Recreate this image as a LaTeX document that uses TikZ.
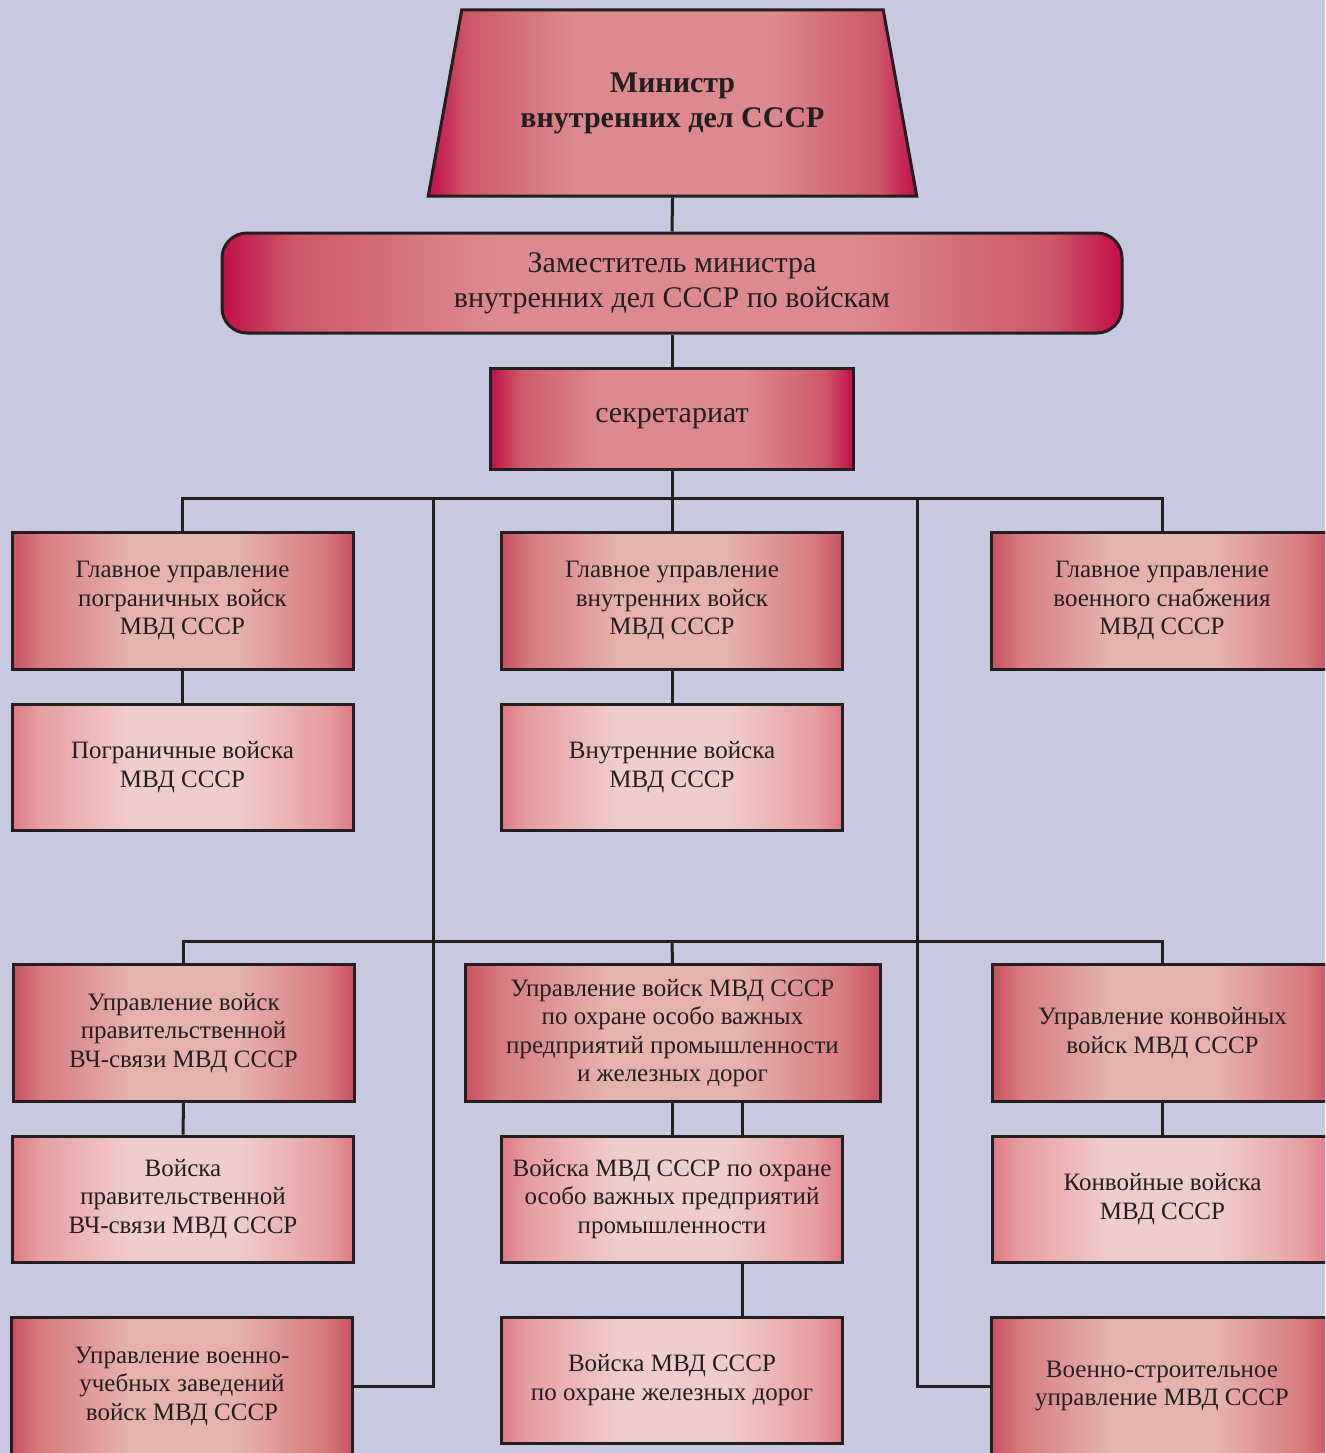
\documentclass[tikz,border=0pt]{standalone}
\usepackage{fontspec}
\setmainfont{Liberation Serif}
\usetikzlibrary{shapes.geometric}

\definecolor{bgcol}{RGB}{200,200,225}
\definecolor{linecol}{RGB}{35,31,32}
\definecolor{topedge}{RGB}{192,14,72}
\definecolor{topramp}{RGB}{206,88,106}
\definecolor{topmid}{RGB}{220,138,142}
\definecolor{mgredge}{RGB}{200,80,96}
\definecolor{mgrramp}{RGB}{214,122,126}
\definecolor{mgrmid}{RGB}{229,178,172}
\definecolor{trpedge}{RGB}{222,120,132}
\definecolor{trpramp}{RGB}{230,158,162}
\definecolor{trpmid}{RGB}{241,204,204}

\pgfdeclarehorizontalshading{topshade}{100bp}{color(0bp)=(topedge); color(25bp)=(topedge); color(29bp)=(topramp); color(40bp)=(topmid); color(60bp)=(topmid); color(71bp)=(topramp); color(75bp)=(topedge); color(100bp)=(topedge)}
\pgfdeclarehorizontalshading{mgrshade}{100bp}{color(0bp)=(mgredge); color(25bp)=(mgredge); color(29bp)=(mgrramp); color(42bp)=(mgrmid); color(58bp)=(mgrmid); color(71bp)=(mgrramp); color(75bp)=(mgredge); color(100bp)=(mgredge)}
\pgfdeclarehorizontalshading{trpshade}{100bp}{color(0bp)=(trpedge); color(25bp)=(trpedge); color(29bp)=(trpramp); color(42bp)=(trpmid); color(58bp)=(trpmid); color(71bp)=(trpramp); color(75bp)=(trpedge); color(100bp)=(trpedge)}

\tikzset{
  conn/.style={draw=linecol, line width=3pt},
  boxbase/.style={draw=linecol, line width=3pt, shade, align=center, inner sep=0pt,
    text=linecol, font=\fontsize{25}{28.5}\selectfont},
  headbox/.style={boxbase, shading=topshade, font=\fontsize{30}{35}\selectfont},
  mgrbox/.style={boxbase, shading=mgrshade, minimum width=341pt, minimum height=137pt},
  trpbox/.style={boxbase, shading=trpshade, minimum width=341pt, minimum height=126pt},
}

\begin{document}
\begin{tikzpicture}[x=1pt,y=-1pt]
        % Background
        \useasboundingbox (0,0) rectangle (1325,1453);
        \fill[bgcol] (0,0) rectangle (1325,1453);
        \clip (0,0) rectangle (1325,1453);

        % Top of the chart
        \node[headbox, trapezium, trapezium stretches=true,
              trapezium left angle=68.4, trapezium right angle=68.4,
              minimum width=491pt, minimum height=186pt,
              font=\bfseries\fontsize{30}{35}\selectfont] (min) at (672.5,103) {Министр\\внутренних дел СССР};
        \node[headbox, rounded corners=25pt, minimum width=900pt, minimum height=100pt] (dep) at (672,283) {Заместитель министра\\внутренних дел СССР по войскам};
        \node[headbox, minimum width=363pt, minimum height=101pt] (sec) at (672,418.5) {секретариат};

        % Main directorates and their troops
        \node[mgrbox] (g1) at (182.5,600.5) {Главное управление\\пограничных войск\\МВД СССР};
        \node[mgrbox] (g2) at (672,600.5) {Главное управление\\внутренних войск\\МВД СССР};
        \node[mgrbox] (g3) at (1162,600.5) {Главное управление\\военного снабжения\\МВД СССР};
        \node[trpbox] (t1) at (182.5,767) {Пограничные войска\\МВД СССР};
        \node[trpbox] (t2) at (672,767) {Внутренние войска\\МВД СССР};

        % Lower directorates
        \node[mgrbox] (u1) at (183.5,1033) {Управление войск\\правительственной\\ВЧ-связи МВД СССР};
        \node[mgrbox, minimum width=415pt] (u2) at (672.5,1033) {Управление войск МВД СССР\\по охране особо важных\\предприятий промышленности\\и железных дорог};
        \node[mgrbox] (u3) at (1162.5,1033) {Управление конвойных\\войск МВД СССР};
        \node[trpbox] (v1) at (183,1199) {Войска\\правительственной\\ВЧ-связи МВД СССР};
        \node[trpbox] (v2) at (672,1199) {Войска МВД СССР по охране\\особо важных предприятий\\промышленности};
        \node[trpbox] (v3) at (1162.5,1199) {Конвойные войска\\МВД СССР};
        \node[mgrbox] (w1) at (182,1386) {Управление военно-\\учебных заведений\\войск МВД СССР};
        \node[trpbox] (w2) at (672,1380) {Войска МВД СССР\\по охране железных дорог};
        \node[mgrbox] (w3) at (1162,1386) {Военно-строительное\\управление МВД СССР};

        % Links from the top
        \draw[conn] (min.south) -- (dep.north);
        \draw[conn] (dep.south) -- (sec.north);
        \coordinate (bus1) at (672,498);
        \draw[conn] (sec.south) -- (bus1);
        \draw[conn] (g1.north) |- (bus1) -| (g3.north);
        \draw[conn] (bus1) -- (g2.north);
        \draw[conn] (g1.south) -- (t1.north);
        \draw[conn] (g2.south) -- (t2.north);

        % Side trunks
        \coordinate (trunkL) at (433,498);
        \coordinate (trunkR) at (917,498);
        \draw[conn] (trunkL) |- (w1.east);
        \draw[conn] (trunkR) |- (w3.west);

        % Second bus
        \coordinate (bus2) at (672,941);
        \draw[conn] (u1.north) |- (bus2) -| (u3.north);
        \draw[conn] (bus2) -- (u2.north);
        \draw[conn] (u1.south) -- (v1.north);
        \draw[conn] (u3.south) -- (v3.north);
        \draw[conn] (u2.south -| v2.north) -- (v2.north);
        \coordinate (railtop) at ([xshift=70pt]v2.north |- u2.south);
        \coordinate (railbot) at ([xshift=70pt]v2.north);
        \draw[conn] (railtop) -- (railbot);
        \draw[conn] ([xshift=70pt]v2.south) -- ([xshift=70pt]w2.north);
\end{tikzpicture}
\end{document}
